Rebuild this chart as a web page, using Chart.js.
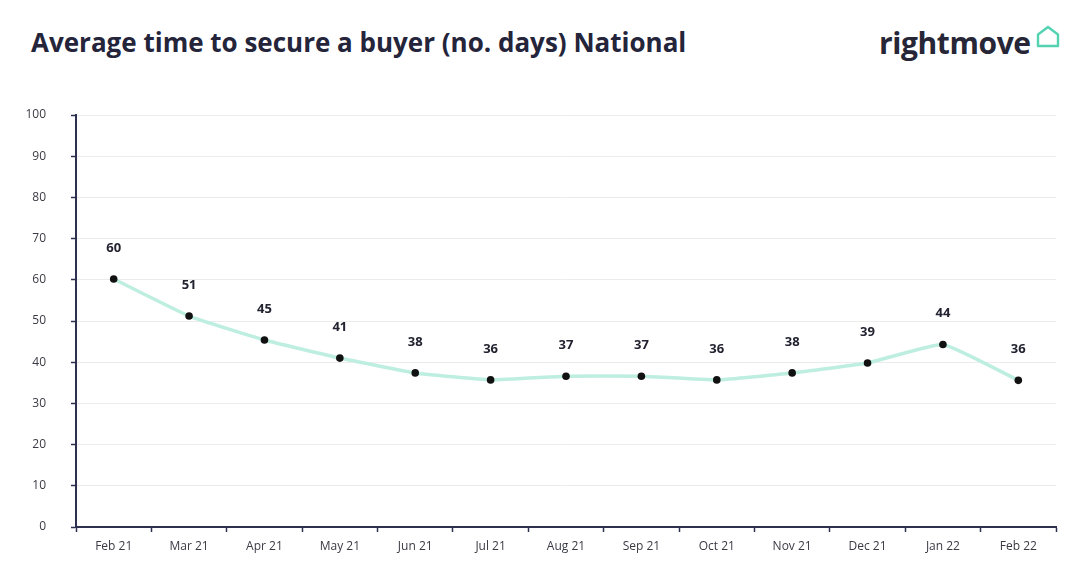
<!DOCTYPE html>
<html>
<head>
<meta charset="utf-8">
<script src="https://cdn.jsdelivr.net/npm/chart.js@4/dist/chart.umd.min.js"></script>
<style>
  html, body { margin: 0; padding: 0; background: #ffffff; }
  #wrap { position: relative; width: 1080px; height: 577px; overflow: hidden; }
  #title { position: absolute; left: 31px; top: 24px; font-family: "Open Sans", Lato, sans-serif; font-weight: 700; font-size: 26px; line-height: 36px; color: #24243a; white-space: nowrap; letter-spacing: 0px; }
  #logo { position: absolute; left: 879px; top: 22px; display: flex; align-items: flex-start; font-family: "Open Sans", Lato, sans-serif; font-weight: 700; font-size: 30px; line-height: 41px; color: #262637; white-space: nowrap; letter-spacing: -0.4px; }
  #house { margin-left: 4px; margin-top: 2px; }
  canvas { position: absolute; left: 0; top: 0; }
</style>
</head>
<body>
<div id="wrap">
  <div id="title">Average time to secure a buyer (no. days) National</div>
  <div id="logo"><span>rightmove</span><svg id="house" width="26" height="26" viewBox="0 0 26 26">
    <path d="M3 10.5 L13 3 L23 10.5 L23 22 L3 22 Z" fill="none" stroke="#54d3b2" stroke-width="2.4" stroke-linejoin="round"/>
  </svg></div>
  <canvas id="c" width="1080" height="577"></canvas>
</div>
<script>
const categories = ["Feb 21","Mar 21","Apr 21","May 21","Jun 21","Jul 21","Aug 21","Sep 21","Oct 21","Nov 21","Dec 21","Jan 22","Feb 22"];
const values = [60.2, 51.2, 45.4, 41.0, 37.4, 35.7, 36.6, 36.6, 35.7, 37.4, 39.8, 44.3, 35.6];
const valueLabels = ["60","51","45","41","38","36","37","37","36","38","39","44","36"];
const yTicks = [0,10,20,30,40,50,60,70,80,90,100];

const axisDark = "#2e3050";
const tickFont = { family: "'Open Sans', Lato, sans-serif", size: 12 };

const pointLabels = {
  id: "pointLabels",
  afterDatasetsDraw(chart) {
    const ctx = chart.ctx;
    const meta = chart.getDatasetMeta(0);
    ctx.save();
    ctx.font = "700 13px 'Open Sans', Lato, sans-serif";
    ctx.fillStyle = "#222230";
    ctx.textAlign = "center";
    ctx.textBaseline = "middle";
    meta.data.forEach((pt, i) => {
      ctx.fillText(valueLabels[i], pt.x, pt.y - 31);
    });
    ctx.restore();
  }
};

new Chart(document.getElementById("c"), {
  type: "line",
  data: {
    labels: categories,
    datasets: [{
      data: values,
      borderColor: "#bdeee0",
      borderWidth: 3.5,
      tension: 0.12,
      pointRadius: 3.8,
      pointBackgroundColor: "#111111",
      pointBorderColor: "#111111",
      pointBorderWidth: 0,
      clip: false
    }]
  },
  options: {
    responsive: false,
    animation: false,
    devicePixelRatio: 1,
    layout: { padding: { left: 0, top: 115, right: 24, bottom: 0 } },
    plugins: { legend: { display: false }, tooltip: { enabled: false } },
    scales: {
      x: {
        type: "category",
        offset: true,
        afterFit(s) { s.height = 50; },
        border: { display: true, color: axisDark, width: 2 },
        grid: { offset: true, drawOnChartArea: false, drawTicks: true, tickLength: 5, tickColor: axisDark, tickWidth: 1.5 },
        ticks: { color: "#3a3a44", padding: 7, font: tickFont, maxRotation: 0, autoSkip: false }
      },
      y: {
        min: 0, max: 100,
        afterFit(s) { s.width = 76; },
        afterBuildTicks(s) { s.ticks = yTicks.map(v => ({ value: v })); },
        border: { display: true, color: axisDark, width: 2 },
        grid: { color: "#ececec", lineWidth: 1, drawTicks: true, tickLength: 5, tickColor: axisDark, tickWidth: 1.5 },
        ticks: { color: "#3a3a44", padding: 25, font: tickFont }
      }
    }
  },
  plugins: [pointLabels]
});
</script>
</body>
</html>
